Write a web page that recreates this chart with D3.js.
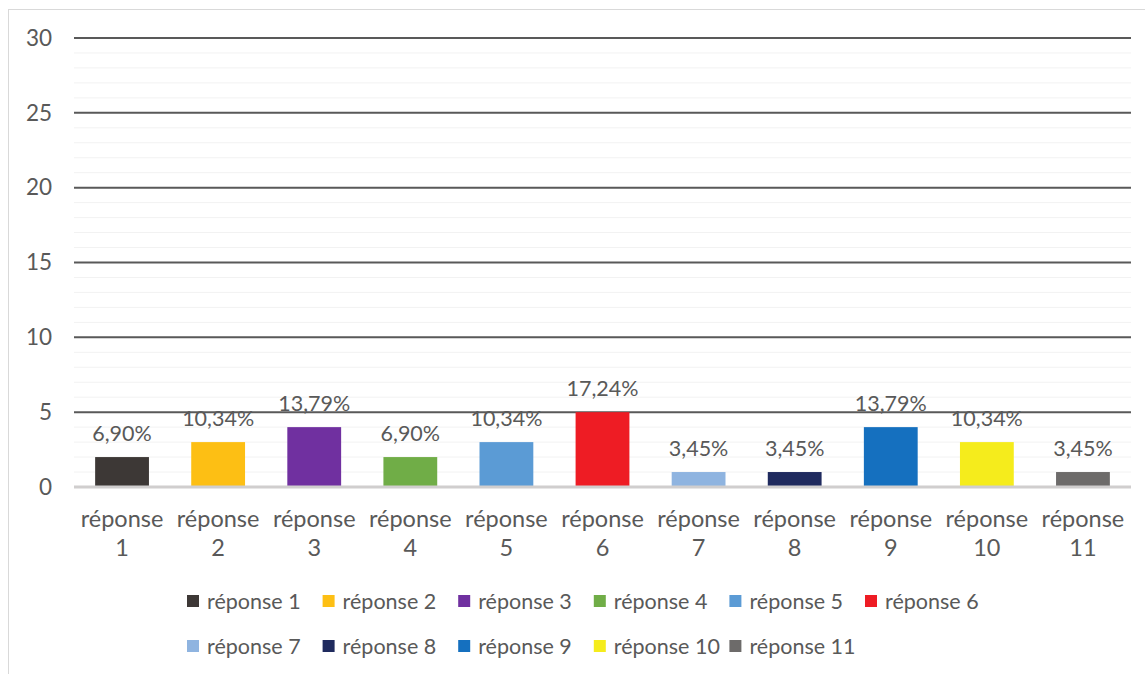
<!DOCTYPE html>
<html>
<head>
<meta charset="utf-8">
<script src="https://cdn.jsdelivr.net/npm/d3@7"></script>
<style>
  body { margin: 0; background: #fff; }
  text { font-family: Lato, "Liberation Sans", sans-serif; fill: #595959; }
</style>
</head>
<body>
<script>
// Chart data
var categories = ["réponse 1", "réponse 2", "réponse 3", "réponse 4", "réponse 5", "réponse 6",
                  "réponse 7", "réponse 8", "réponse 9", "réponse 10", "réponse 11"];
var counts = [2, 3, 4, 2, 3, 5, 1, 1, 4, 3, 1];
var percentLabels = ["6,90%", "10,34%", "13,79%", "6,90%", "10,34%", "17,24%",
                     "3,45%", "3,45%", "13,79%", "10,34%", "3,45%"];
var colors = ["#3d3836", "#fdbf14", "#7030a0", "#70ad47", "#5b9bd5", "#ee1c24",
              "#8fb4e0", "#1f2a5e", "#1570bf", "#f5ec1c", "#6d6b6a"];
var yTicks = [0, 5, 10, 15, 20, 25, 30];

var svgWidth = 1145;
var svgHeight = 674;

var margin = { top: 38, right: 14, bottom: 187, left: 74 };
var width = svgWidth - margin.left - margin.right;
var height = svgHeight - margin.top - margin.bottom;

var svg = d3.select("body")
  .append("svg")
  .attr("width", svgWidth)
  .attr("height", svgHeight);

// outer frame
svg.append("rect")
  .attr("x", 8.5).attr("y", 9.5)
  .attr("width", svgWidth).attr("height", svgHeight)
  .attr("fill", "none")
  .attr("stroke", "#d9d9d9");

var chartGroup = svg.append("g")
  .attr("transform", `translate(${margin.left}, ${margin.top})`);

var xScale = d3.scaleBand()
  .domain(categories)
  .range([0, width])
  .paddingInner(0.44)
  .paddingOuter(0.22);

var yScale = d3.scaleLinear()
  .domain([0, 30])
  .range([height, 0]);

// minor gridlines
chartGroup.append("g")
  .selectAll("line")
  .data(d3.range(1, 30).filter(d => d % 5 !== 0))
  .enter()
  .append("line")
  .attr("x1", 0).attr("x2", width)
  .attr("y1", d => yScale(d)).attr("y2", d => yScale(d))
  .attr("stroke", "#f2f2f2")
  .attr("stroke-width", 1);

// major gridlines
chartGroup.append("g")
  .selectAll("line")
  .data(yTicks.filter(d => d > 0))
  .enter()
  .append("line")
  .attr("x1", 0).attr("x2", width)
  .attr("y1", d => yScale(d)).attr("y2", d => yScale(d))
  .attr("stroke", "#595959")
  .attr("stroke-width", 2);

// y axis labels
var leftAxis = d3.axisLeft(yScale).tickValues(yTicks).tickSize(0).tickPadding(22);
var yAxisG = chartGroup.append("g").call(leftAxis);
yAxisG.select(".domain").remove();
yAxisG.selectAll("text")
  .attr("font-size", "22.5px")
  .attr("fill", "#595959")
  .style("font-family", "Lato, 'Liberation Sans', sans-serif");

// bars
chartGroup.selectAll(".bar")
  .data(counts)
  .enter()
  .append("rect")
  .attr("class", "bar")
  .attr("x", (d, i) => xScale(categories[i]))
  .attr("y", d => yScale(d))
  .attr("width", xScale.bandwidth())
  .attr("height", d => height - yScale(d))
  .attr("fill", (d, i) => colors[i]);

// zero line
chartGroup.append("line")
  .attr("x1", 0).attr("x2", width)
  .attr("y1", height).attr("y2", height)
  .attr("stroke", "#d0cece")
  .attr("stroke-width", 3);

// value labels
chartGroup.selectAll(".label")
  .data(counts)
  .enter()
  .append("text")
  .attr("class", "label")
  .attr("text-anchor", "middle")
  .attr("font-size", "21.5px")
  .attr("fill", "#404040")
  .attr("x", (d, i) => xScale(categories[i]) + xScale.bandwidth() / 2)
  .attr("y", d => yScale(d) - 16)
  .text((d, i) => percentLabels[i]);

// x axis labels, two lines
var xLabels = chartGroup.selectAll(".xlabel")
  .data(categories)
  .enter()
  .append("text")
  .attr("class", "xlabel")
  .attr("text-anchor", "middle")
  .attr("font-size", "23.5px")
  .attr("x", d => xScale(d) + xScale.bandwidth() / 2)
  .attr("y", height + 40);
xLabels.append("tspan")
  .attr("x", d => xScale(d) + xScale.bandwidth() / 2)
  .text(d => d.split(" ")[0]);
xLabels.append("tspan")
  .attr("x", d => xScale(d) + xScale.bandwidth() / 2)
  .attr("dy", 29)
  .text(d => d.split(" ")[1]);

// legend
var legendX = 187, legendStep = 135.6, legendRows = [601, 646], perRow = 6;
var legend = svg.selectAll(".legend")
  .data(categories)
  .enter()
  .append("g")
  .attr("class", "legend")
  .attr("transform", (d, i) =>
    `translate(${legendX + (i % perRow) * legendStep}, ${legendRows[Math.floor(i / perRow)]})`);
legend.append("rect")
  .attr("x", 0).attr("y", -6)
  .attr("width", 12).attr("height", 12)
  .attr("fill", (d, i) => colors[i]);
legend.append("text")
  .attr("x", 20)
  .attr("y", 0)
  .attr("dy", "0.35em")
  .attr("font-size", "21.5px")
  .text(d => d);
</script>
</body>
</html>
